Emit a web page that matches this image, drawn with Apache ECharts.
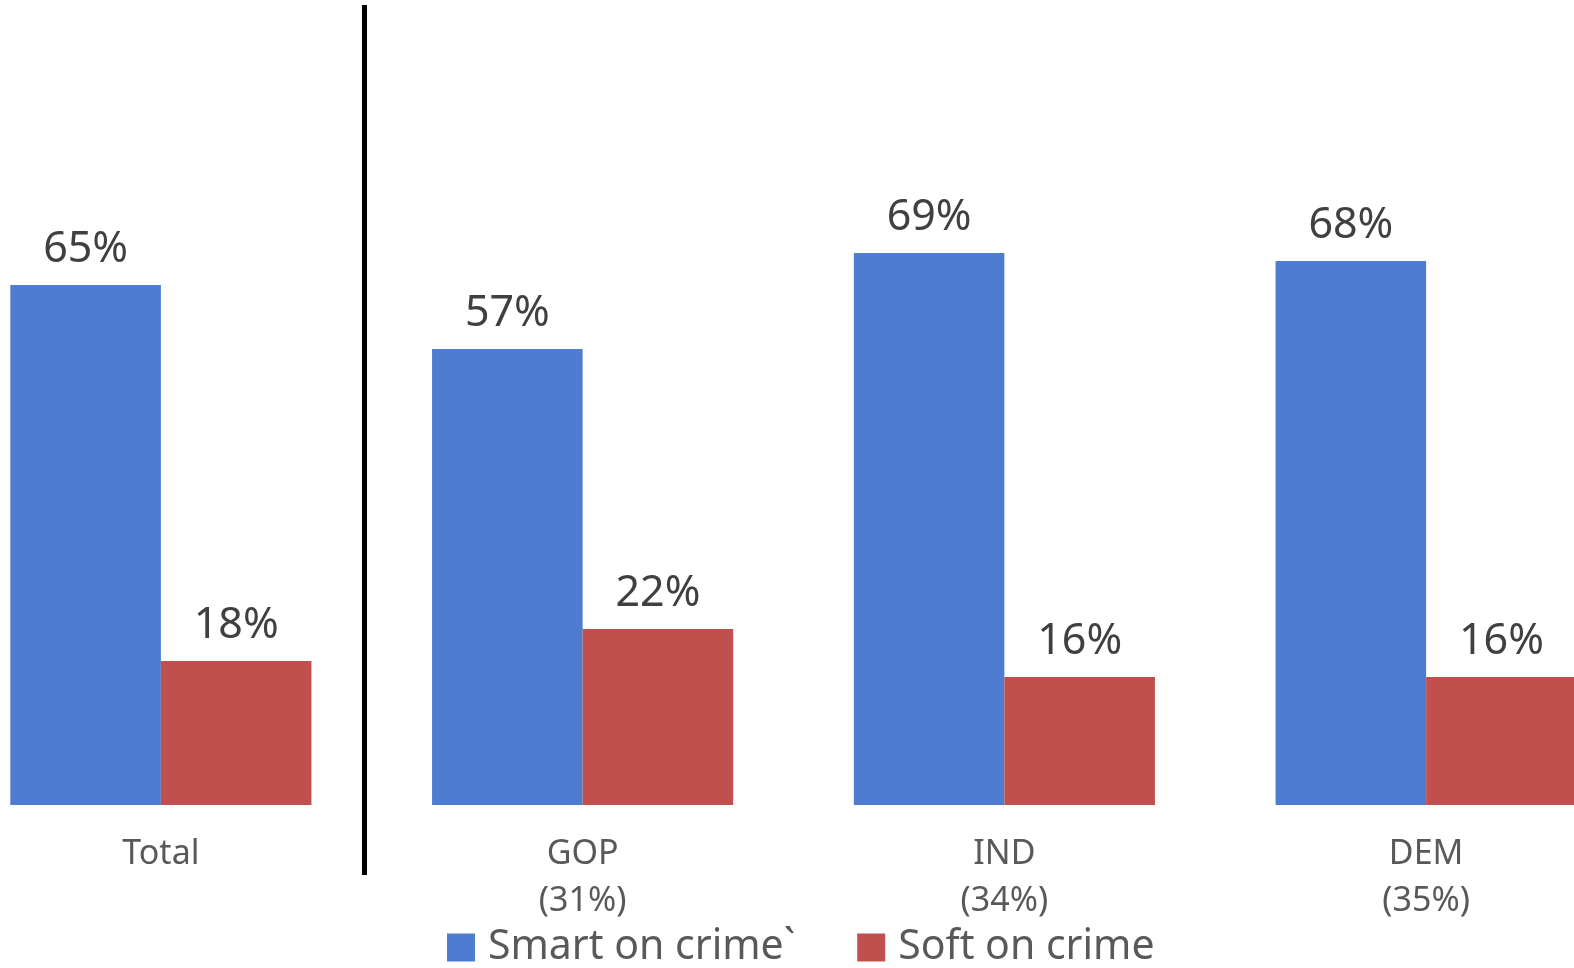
<!DOCTYPE html>
<html>
<head>
<meta charset="utf-8">
<script src="https://cdn.jsdelivr.net/npm/echarts@6/dist/echarts.min.js"></script>
<style>
html,body{margin:0;padding:0;background:#fff;}
#chart{width:1574px;height:968px;}
</style>
</head>
<body>
<div id="chart"></div>
<script>
const categories = ['Total', 'GOP\n(31%)', 'IND\n(34%)', 'DEM\n(35%)'];
const smartOnCrime = [65, 57, 69, 68];
const softOnCrime = [18, 22, 16, 16];
const seriesNames = ['Smart on crime`', 'Soft on crime'];

const chart = echarts.init(document.getElementById('chart'), null, {renderer: 'canvas'});
const labelStyle = {
  show: true,
  position: 'top',
  distance: 14,
  formatter: '{c}%',
  fontFamily: 'Noto Sans',
  fontSize: 43,
  color: '#404040'
};
chart.setOption({
  animation: false,
  backgroundColor: '#ffffff',
  grid: {left: -50, right: -63, top: 5, bottom: 163, containLabel: false, outerBoundsMode: 'none'},
  legend: {
    data: seriesNames,
    top: 927,
    left: 447,
    padding: 0,
    itemWidth: 28,
    itemHeight: 28,
    itemGap: 62,
    icon: 'rect',
    textStyle: {fontFamily: 'Noto Sans', fontSize: 41, color: '#595959', padding: [0, 0, 0, 8]}
  },
  xAxis: {
    type: 'category',
    data: categories,
    axisLine: {show: false},
    axisTick: {show: false},
    axisLabel: {
      margin: 26,
      fontFamily: 'Noto Sans',
      fontSize: 34,
      lineHeight: 47,
      color: '#595959'
    }
  },
  yAxis: {
    type: 'value',
    min: 0,
    max: 100,
    show: false,
    splitLine: {show: false}
  },
  series: [
    {
      name: seriesNames[0],
      type: 'bar',
      data: smartOnCrime,
      barGap: '0%',
      barCategoryGap: '28.6%',
      itemStyle: {color: '#4D7CD1'},
      label: labelStyle
    },
    {
      name: seriesNames[1],
      type: 'bar',
      data: softOnCrime,
      barGap: '0%',
      barCategoryGap: '28.6%',
      itemStyle: {color: '#C0504D'},
      label: labelStyle
    }
  ],
  graphic: [
    {
      type: 'line',
      shape: {x1: 364.5, y1: 5, x2: 364.5, y2: 875},
      style: {stroke: '#000000', lineWidth: 5}
    }
  ]
});
</script>
</body>
</html>
